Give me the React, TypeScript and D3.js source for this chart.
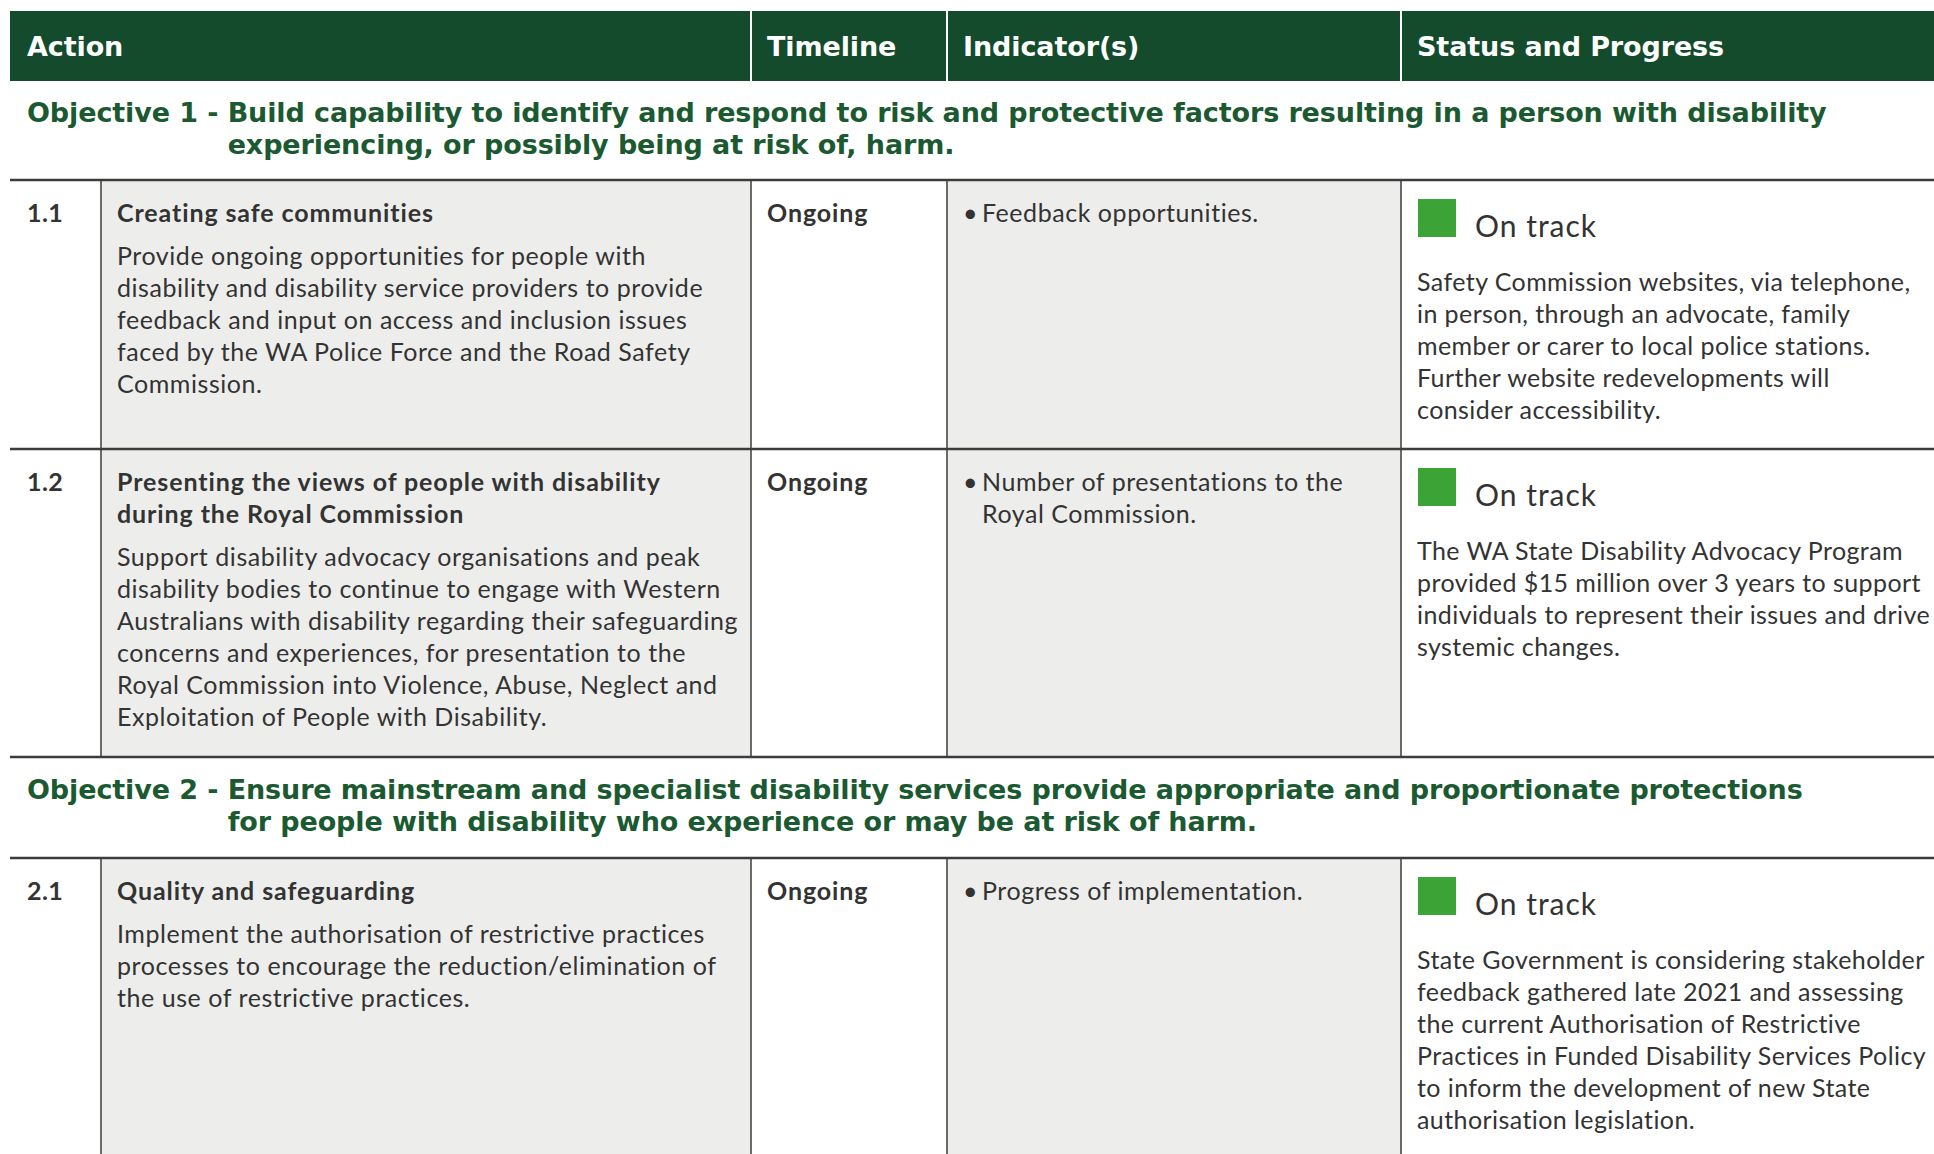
import React, { useEffect, useRef } from 'react';
import * as d3 from 'd3';

// table content, one small array per field
const columns = ['Action', 'Timeline', 'Indicator(s)', 'Status and Progress'];

const objectivePrefixes = ['Objective 1 - ', 'Objective 2 - '];
const objectiveLines = [
   [
      'Build capability to identify and respond to risk and protective factors resulting in a person with disability',
      'experiencing, or possibly being at risk of, harm.',
   ],
   [
      'Ensure mainstream and specialist disability services provide appropriate and proportionate protections',
      'for people with disability who experience or may be at risk of harm.',
   ],
];

const actionIds = ['1.1', '1.2', '2.1'];
const actionTitles = [
   ['Creating safe communities'],
   ['Presenting the views of people with disability', 'during the Royal Commission'],
   ['Quality and safeguarding'],
];
const actionBodies = [
   [
      'Provide ongoing opportunities for people with',
      'disability and disability service providers to provide',
      'feedback and input on access and inclusion issues',
      'faced by the WA Police Force and the Road Safety',
      'Commission.',
   ],
   [
      'Support disability advocacy organisations and peak',
      'disability bodies to continue to engage with Western',
      'Australians with disability regarding their safeguarding',
      'concerns and experiences, for presentation to the',
      'Royal Commission into Violence, Abuse, Neglect and',
      'Exploitation of People with Disability.',
   ],
   [
      'Implement the authorisation of restrictive practices',
      'processes to encourage the reduction/elimination of',
      'the use of restrictive practices.',
   ],
];
const timelines = ['Ongoing', 'Ongoing', 'Ongoing'];
const indicators = [
   ['Feedback opportunities.'],
   ['Number of presentations to the', 'Royal Commission.'],
   ['Progress of implementation.'],
];
const statuses = ['On track', 'On track', 'On track'];
const statusNotes = [
   [
      'Safety Commission websites, via telephone,',
      'in person, through an advocate, family',
      'member or carer to local police stations.',
      'Further website redevelopments will',
      'consider accessibility.',
   ],
   [
      'The WA State Disability Advocacy Program',
      'provided $15 million over 3 years to support',
      'individuals to represent their issues and drive',
      'systemic changes.',
   ],
   [
      'State Government is considering stakeholder',
      'feedback gathered late 2021 and assessing',
      'the current Authorisation of Restrictive',
      'Practices in Funded Disability Services Policy',
      'to inform the development of new State',
      'authorisation legislation.',
   ],
];

const W = 1934;
const H = 1154;

const GREEN_DARK = '#134b2c';
const GREEN_TEXT = '#1b5a31';
const GREEN_BOX = '#3ca336';
const GREY_FILL = '#edeeec';
const INK = '#333333';
const RULE = '#3c3c3c';

const HEAD_FONT = '"DejaVu Sans", Lato, sans-serif';
const BODY_FONT = 'Lato, "Noto Sans", sans-serif';

const App: React.FC = () => {
   const svgRef = useRef<SVGSVGElement | null>(null);

   useEffect(() => {
      if (!svgRef.current) return;
      const svg = d3.select(svgRef.current);
      svg.selectAll('*').remove();

      // column edges and text insets
      const colEdge = d3
         .scaleOrdinal<string, number>()
         .domain(['num', 'action', 'timeline', 'indicator', 'status', 'end'])
         .range([10, 101, 751, 947, 1401, W]);
      const inset = 16;
      const leftText = colEdge('num') + 17;

      // vertical layout of the page
      const headerTop = 11;
      const headerBottom = 81;
      const objectiveBase = [122, 799];
      const rowTop = [180, 449, 858];
      const rowBottom = [449, 757, H + 20];
      const lineStep = 32;

      // heading face is wider than anything installed, so track it out to the
      // width of the first objective line
      const headSize = 27;
      const probe = svg.append('text')
         .attr('font-family', HEAD_FONT).attr('font-weight', 700).attr('font-size', headSize)
         .text(objectiveLines[0][0]);
      const natural = (probe.node() as SVGTextElement).getComputedTextLength();
      probe.remove();
      const targetWidth = 1599;
      const headTrack = Math.max(-1.5, Math.min(3, (targetWidth - natural) / objectiveLines[0][0].length));

      const body = (sel: d3.Selection<SVGTextElement, any, any, any>, bold = false) =>
         sel.attr('font-family', BODY_FONT)
            .attr('font-weight', bold ? 700 : 400)
            .attr('font-size', 25)
            .attr('letter-spacing', bold ? 0.9 : 0.55)
            .attr('fill', INK);

      svg.append('rect').attr('width', W).attr('height', H).attr('fill', '#ffffff');

      // header band
      svg.append('rect')
         .attr('x', colEdge('num'))
         .attr('y', headerTop)
         .attr('width', W - colEdge('num'))
         .attr('height', headerBottom - headerTop)
         .attr('fill', GREEN_DARK);

      const headerX = [leftText, colEdge('timeline') + inset, colEdge('indicator') + inset, colEdge('status') + inset];
      ['timeline', 'indicator', 'status'].forEach(k => {
         svg.append('line')
            .attr('x1', colEdge(k)).attr('x2', colEdge(k))
            .attr('y1', headerTop).attr('y2', headerBottom)
            .attr('stroke', '#ffffff').attr('stroke-width', 2);
      });
      svg.selectAll('.head-label')
         .data(columns)
         .enter()
         .append('text')
         .attr('class', 'head-label')
         .attr('x', (_, i) => headerX[i])
         .attr('y', 56)
         .attr('fill', '#ffffff')
         .attr('font-family', HEAD_FONT)
         .attr('font-weight', 700)
         .attr('font-size', 27)
         .attr('letter-spacing', headTrack)
         .text(d => d);

      // objectives with hanging indent
      objectivePrefixes.forEach((prefix, i) => {
         const g = svg.append('g')
            .attr('font-family', HEAD_FONT).attr('font-weight', 700)
            .attr('font-size', headSize).attr('letter-spacing', headTrack)
            .attr('fill', GREEN_TEXT);
         const pre = g.append('text')
            .attr('x', leftText)
            .attr('y', objectiveBase[i])
            .style('white-space', 'pre')
            .text(prefix);
         const indent = leftText + (pre.node() as SVGTextElement).getComputedTextLength();
         objectiveLines[i].forEach((line, j) => {
            g.append('text')
               .attr('x', indent)
               .attr('y', objectiveBase[i] + j * 32)
               .text(line);
         });
      });

      // rows
      actionIds.forEach((id, r) => {
         const top = rowTop[r];
         const bottom = rowBottom[r];
         const g = svg.append('g');

         ['action', 'indicator'].forEach(k => {
            const next = k === 'action' ? 'timeline' : 'status';
            g.append('rect')
               .attr('x', colEdge(k))
               .attr('y', top)
               .attr('width', colEdge(next) - colEdge(k))
               .attr('height', bottom - top)
               .attr('fill', GREY_FILL);
         });
         ['action', 'timeline', 'indicator', 'status'].forEach(k => {
            g.append('line')
               .attr('x1', colEdge(k)).attr('x2', colEdge(k))
               .attr('y1', top).attr('y2', bottom)
               .attr('stroke', RULE).attr('stroke-width', 1.5);
         });

         const titleBase = top + 42;
         body(g.append('text'), true)
            .attr('x', leftText)
            .attr('y', titleBase)
            .attr('letter-spacing', 0.4)
            .text(id);

         const tx = colEdge('action') + inset;
         actionTitles[r].forEach((line, j) => {
            body(g.append('text'), true)
               .attr('x', tx).attr('y', titleBase + j * lineStep)
               .text(line);
         });
         const bodyBase = titleBase + (actionTitles[r].length - 1) * lineStep + 43;
         actionBodies[r].forEach((line, j) => {
            body(g.append('text'))
               .attr('x', tx).attr('y', bodyBase + j * lineStep)
               .text(line);
         });

         body(g.append('text'), true)
            .attr('x', colEdge('timeline') + inset).attr('y', titleBase)
            .text(timelines[r]);

         body(g.append('text'))
            .attr('x', colEdge('indicator') + inset).attr('y', titleBase)
            .text('•');
         indicators[r].forEach((line, j) => {
            body(g.append('text'))
               .attr('x', colEdge('indicator') + 35).attr('y', titleBase + j * lineStep)
               .text(line);
         });

         const sx = colEdge('status') + inset;
         g.append('rect')
            .attr('x', sx + 1).attr('y', top + 19)
            .attr('width', 38).attr('height', 38)
            .attr('fill', GREEN_BOX);
         body(g.append('text'))
            .attr('x', colEdge('status') + 74).attr('y', top + 57)
            .attr('font-size', 30)
            .attr('letter-spacing', 1)
            .text(statuses[r]);
         statusNotes[r].forEach((line, j) => {
            body(g.append('text'))
               .attr('x', sx).attr('y', top + 111 + j * lineStep)
               .attr('letter-spacing', 0.42)
               .text(line);
         });
      });

      // horizontal rules drawn last so they sit over the fills
      rowTop.concat([757]).forEach(y => {
         svg.append('line')
            .attr('x1', colEdge('num')).attr('x2', W)
            .attr('y1', y).attr('y2', y)
            .attr('stroke', RULE).attr('stroke-width', 2.5);
      });
   }, []);

   return (
      <div style={{ position: 'absolute', left: 0, top: 0, width: W, height: H, overflow: 'hidden' }}>
         <svg ref={svgRef} width={W} height={H} viewBox={`0 0 ${W} ${H}`} />
      </div>
   );
};

export default App;
